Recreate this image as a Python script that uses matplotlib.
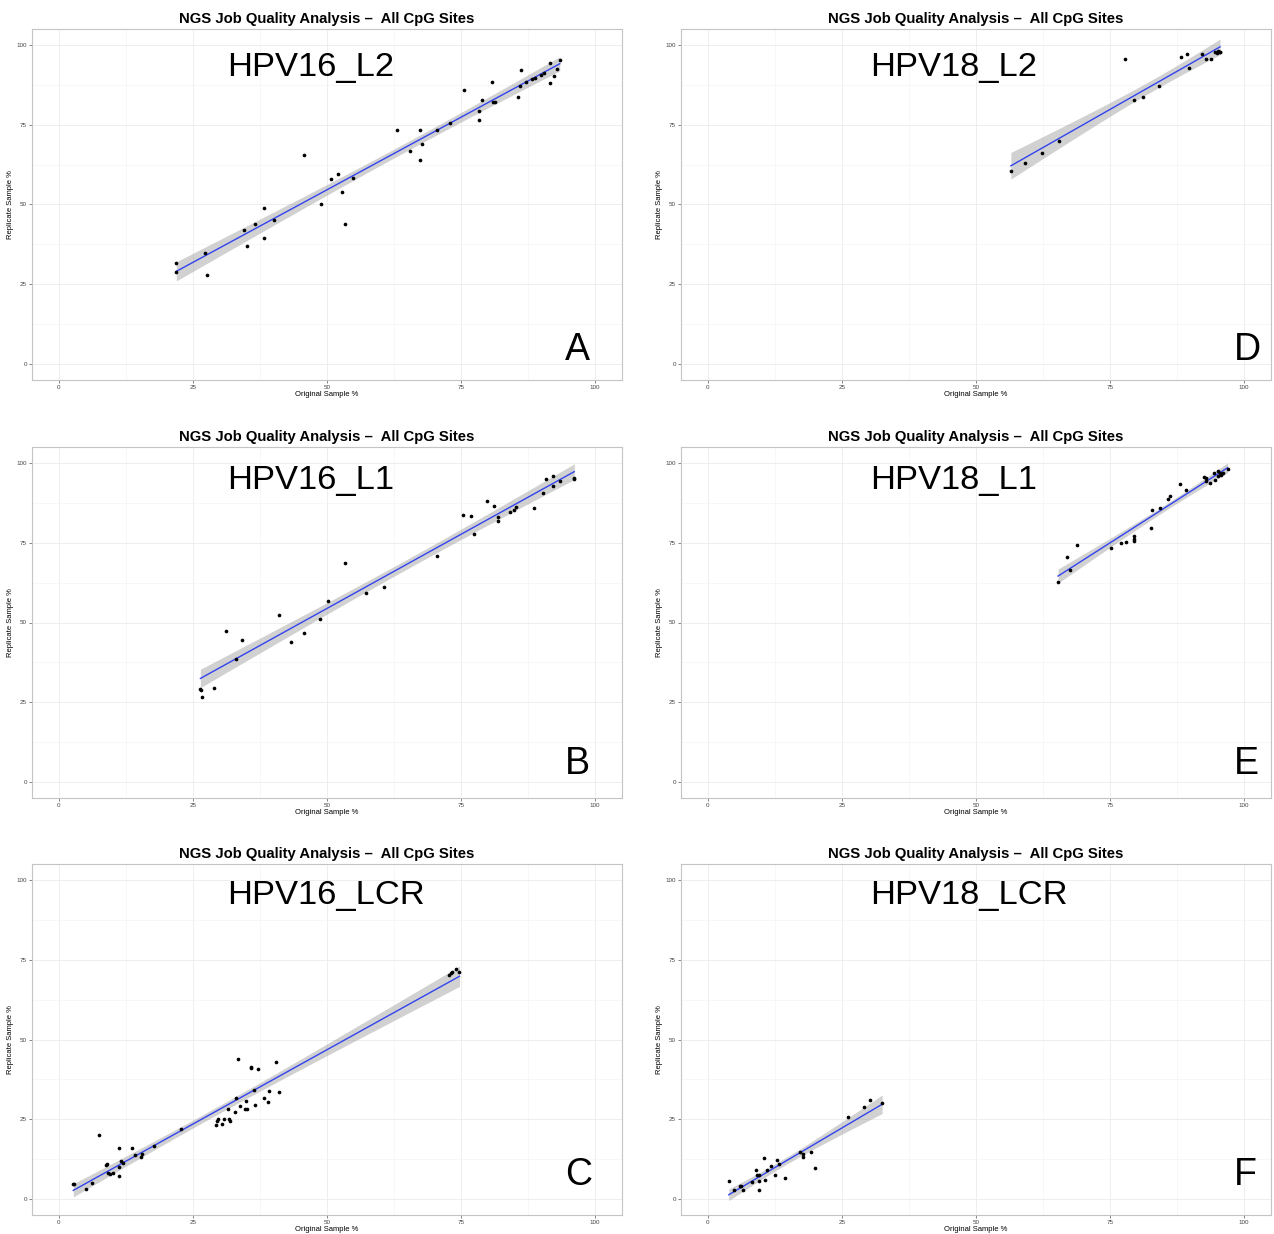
import numpy as np
import matplotlib.pyplot as plt

plt.rcParams['font.family'] = ['Liberation Sans', 'DejaVu Sans']

TITLE = "NGS Job Quality Analysis \u2013  All CpG Sites"

# HPV16_L2 (A)
a_x = [21.9, 21.9, 27.2, 27.6, 34.6, 35.0, 36.6, 38.2, 38.3, 40.1, 45.8, 48.8,
       50.8, 52.1, 52.8, 53.4, 54.8, 63.0, 65.5, 67.3, 67.3, 67.8, 70.5, 72.9,
       75.6, 78.3, 78.4, 78.9, 80.7, 81.0, 81.3, 85.7, 86.0, 86.1, 87.1, 88.2,
       88.7, 89.9, 90.5, 91.5, 91.5, 92.4, 92.9, 93.4]
a_y = [31.8, 28.7, 34.8, 27.8, 41.9, 37.0, 43.8, 48.9, 39.6, 45.2, 65.6, 50.1,
       57.9, 59.7, 53.8, 43.8, 58.2, 73.5, 66.9, 73.3, 64.0, 69.1, 73.2, 75.6,
       85.9, 79.4, 76.6, 82.7, 88.5, 82.2, 82.1, 83.8, 87.1, 92.3, 88.3, 89.4,
       89.7, 90.7, 91.2, 94.5, 88.1, 90.2, 92.6, 95.4]

# HPV16_L1 (B)
b_x = [26.4, 26.6, 26.7, 28.9, 31.2, 33.0, 34.2, 41.0, 43.3, 45.8, 48.7, 50.1,
       53.3, 57.3, 60.7, 70.5, 75.4, 76.8, 77.4, 79.9, 81.2, 81.9, 81.9, 84.2,
       84.8, 85.3, 88.6, 90.2, 90.9, 92.2, 92.2, 93.5, 96.0, 96.1]
b_y = [29.2, 28.9, 26.5, 29.4, 47.3, 38.7, 44.5, 52.5, 43.9, 46.7, 51.0, 56.8,
       68.5, 59.1, 61.0, 70.7, 83.6, 83.3, 77.6, 88.0, 86.5, 83.2, 81.7, 84.6,
       85.3, 86.2, 86.0, 90.5, 95.0, 95.9, 92.8, 94.2, 95.0, 95.2]

# HPV16_LCR (C)
c_x = [2.7, 2.9, 5.1, 6.1, 7.5, 8.8, 8.9, 9.2, 9.6, 10.1, 11.3, 11.3, 11.5,
       11.9, 11.3, 13.7, 14.2, 15.3, 15.5, 17.7, 22.8, 29.3, 29.4, 29.7, 30.5,
       30.8, 31.6, 31.8, 32.0, 32.9, 33.1, 33.5, 33.8, 34.8, 35.0, 34.9, 35.8,
       35.9, 36.3, 36.5, 37.1, 38.3, 39.0, 39.1, 40.5, 41.0, 72.8, 73.2, 73.3,
       74.1, 74.7]
c_y = [4.8, 4.6, 3.3, 5.1, 20.1, 10.6, 11.0, 8.1, 7.9, 8.1, 7.1, 10.1, 11.8,
       11.3, 16.1, 15.9, 13.8, 13.3, 14.1, 16.7, 21.8, 23.3, 24.4, 25.2, 23.6,
       25.2, 28.1, 25.2, 24.6, 27.2, 31.6, 44.0, 29.2, 28.1, 28.3, 30.7, 41.5,
       41.0, 34.3, 29.4, 40.6, 31.8, 30.4, 33.9, 42.9, 33.6, 70.3, 70.8, 71.1,
       72.1, 71.1]

# HPV18_L2 (D)
d_x = [56.5, 59.2, 62.3, 65.4, 77.7, 79.5, 81.1, 84.1, 88.2, 89.3, 89.8, 92.2,
       92.9, 93.8, 94.6, 94.9, 95.1, 95.4, 95.5]
d_y = [60.5, 63.0, 66.0, 69.8, 95.6, 82.6, 83.8, 87.1, 96.1, 97.2, 92.8, 97.3,
       95.6, 95.6, 97.7, 97.4, 98.0, 97.7, 97.9]

# HPV18_L1 (E)
e_x = [65.3, 66.9, 67.5, 68.9, 75.1, 77.1, 77.9, 79.4, 79.4, 79.5, 82.6, 82.9,
       84.3, 85.8, 86.2, 88.0, 89.2, 92.5, 92.9, 92.8, 93.6, 94.3, 94.6, 95.1,
       95.2, 95.5, 95.7, 96.0, 96.9]
e_y = [62.7, 70.5, 66.6, 74.4, 73.3, 75.0, 75.1, 75.5, 76.1, 77.1, 79.5, 85.3,
       86.0, 88.7, 89.7, 93.5, 91.5, 95.5, 95.4, 94.3, 93.8, 96.9, 94.7, 97.5,
       95.9, 96.7, 96.1, 96.9, 98.2]

# HPV18_LCR (F)
f_x = [3.9, 4.9, 6.0, 6.2, 6.6, 8.3, 8.9, 9.1, 9.6, 9.5, 9.6, 10.4, 10.6, 11.1,
       11.7, 12.9, 12.5, 13.3, 14.3, 17.2, 17.8, 17.8, 19.2, 20.0, 26.2, 29.2,
       30.2, 32.5]
f_y = [5.6, 2.9, 4.2, 4.0, 2.8, 5.4, 9.2, 7.6, 7.4, 2.8, 5.7, 13.0, 6.0, 9.2,
       10.4, 12.3, 7.4, 11.0, 6.6, 14.8, 14.2, 13.1, 14.7, 9.6, 25.7, 28.9,
       31.0, 30.0]

names = ["HPV16_L2", "HPV16_L1", "HPV16_LCR", "HPV18_L2", "HPV18_L1", "HPV18_LCR"]
letters = ["A", "B", "C", "D", "E", "F"]
xs = [a_x, b_x, c_x, d_x, e_x, f_x]
ys = [a_y, b_y, c_y, d_y, e_y, f_y]

W, H = 1274, 1234
col_left = [32, 681]
row_top = [29, 447, 864]
pw, ph = 590, 351
name_x = [31.4, 30.3]
name_y = [90.4, 91.8, 92.6]
let_x = [94.4, 98.1]
let_y = [1.2, 2.4, 4.3]


def t975(df):
    z = 1.959964
    return z + (z**3 + z) / (4 * df) + (5 * z**5 + 16 * z**3 + 3 * z) / (96 * df**2)


def lm_band(x, y):
    x = np.asarray(x)
    y = np.asarray(y)
    n = len(x)
    b, a = np.polyfit(x, y, 1)
    res = y - (a + b * x)
    s = np.sqrt(np.sum(res**2) / (n - 2))
    xx = np.linspace(x.min(), x.max(), 80)
    se = s * np.sqrt(1 / n + (xx - x.mean())**2 / np.sum((x - x.mean())**2))
    fit = a + b * xx
    t = t975(n - 2)
    return xx, fit, fit - t * se, fit + t * se


fig = plt.figure(figsize=(W / 100, H / 100), dpi=100)

for i in range(6):
    col, row = i // 3, i % 3
    left = col_left[col] / W
    bottom = 1 - (row_top[row] + ph) / H
    ax = fig.add_axes([left, bottom, pw / W, ph / H])

    xx, fit, lo, hi = lm_band(xs[i], ys[i])
    ax.fill_between(xx, lo, hi, color='#999999', alpha=0.45, lw=0, zorder=2)
    ax.plot(xx, fit, color='#3344EE', lw=1.0, zorder=3)
    ax.scatter(xs[i], ys[i], s=7, color='black', lw=0, zorder=4)

    ax.set_xlim(-5, 105)
    ax.set_ylim(-5, 105)
    ax.set_xticks([0, 25, 50, 75, 100])
    ax.set_yticks([0, 25, 50, 75, 100])
    ax.set_xticks([12.5, 37.5, 62.5, 87.5], minor=True)
    ax.set_yticks([12.5, 37.5, 62.5, 87.5], minor=True)
    ax.grid(which='major', color='#ebebeb', lw=0.6, zorder=0)
    ax.grid(which='minor', color='#f4f4f4', lw=0.5, zorder=0)
    ax.set_axisbelow(True)
    ax.tick_params(which='major', labelsize=4.5, length=2, width=0.5,
                   color='#555555', labelcolor='#444444', pad=1.5)
    ax.tick_params(which='minor', length=0)
    for sp in ax.spines.values():
        sp.set_color('#c4c4c4')
        sp.set_linewidth(0.8)

    ax.set_xlabel("Original Sample %", fontsize=5.5, labelpad=1)
    ax.set_ylabel("Replicate Sample %", fontsize=5.5, labelpad=2)
    ax.set_title(TITLE, fontsize=10.7, fontweight='bold', pad=4)

    ax.text(name_x[col], name_y[row], names[i], fontsize=24.8,
            ha='left', va='baseline', zorder=5)
    ax.text(let_x[col], let_y[row], letters[i], fontsize=27,
            ha='left', va='baseline', zorder=5)

fig.savefig("out.png", dpi=100)
